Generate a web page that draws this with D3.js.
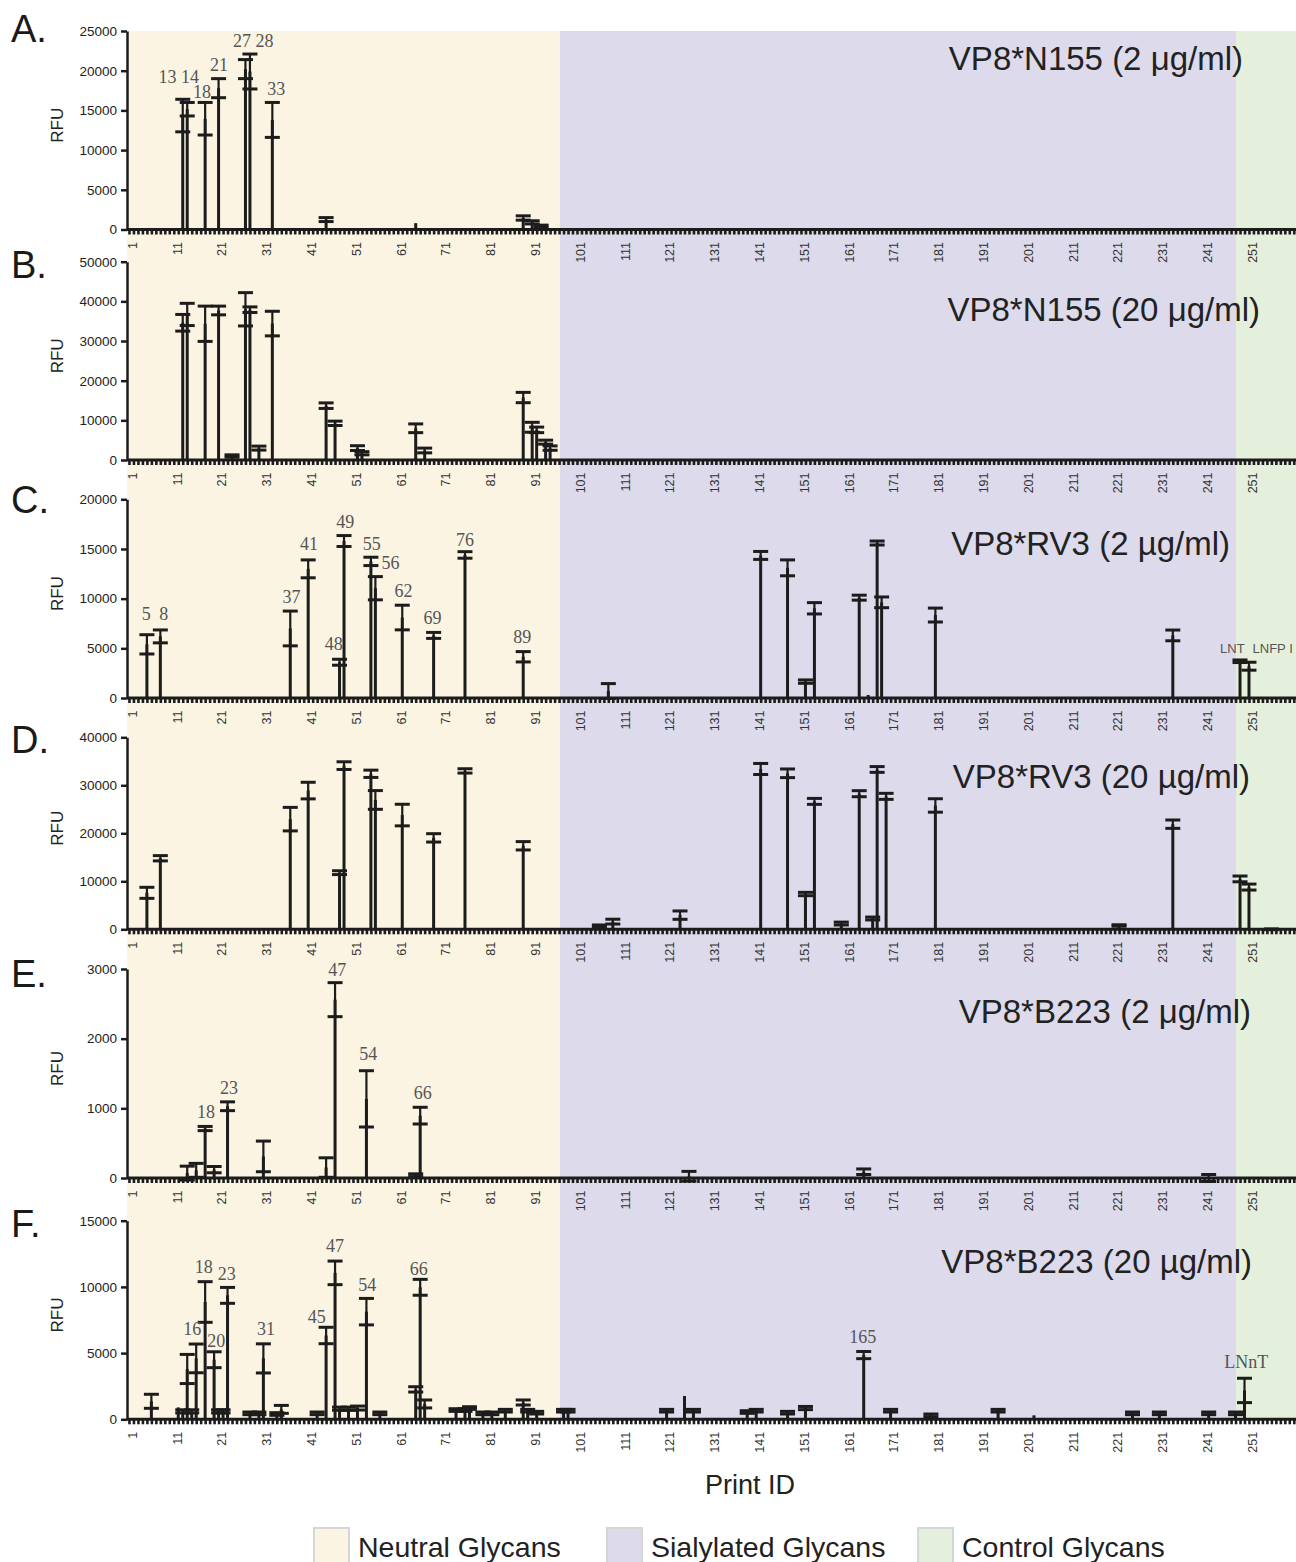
<!DOCTYPE html>
<html><head><meta charset="utf-8">
<script src="https://cdn.jsdelivr.net/npm/d3@7"></script>
<style>body{margin:0;background:#fff;} svg{display:block;}</style>
</head><body>
<svg id="chart" width="1296" height="1562"></svg>
<script>
// ---------------- DATA ----------------
const panelLetters = ["A.", "B.", "C.", "D.", "E.", "F."];
const panelTitles = ["VP8*N155 (2 μg/ml)", "VP8*N155 (20 μg/ml)", "VP8*RV3 (2 µg/ml)",
  "VP8*RV3 (20 µg/ml)", "VP8*B223  (2 μg/ml)", "VP8*B223 (20 µg/ml)"];
const yMaxValues = [25000, 50000, 20000, 40000, 3000, 15000];
const yTickSteps = [5000, 10000, 5000, 10000, 1000, 5000];
const printIdTickLabels = d3.range(1, 252, 10);
const printIdMax = 262;
const regionNames = ["Neutral Glycans", "Sialylated Glycans", "Control Glycans"];
const regionFrom = [0.56, 97.2, 248.1];
const regionTo = [97.2, 248.1, 262];

// [print ID, mean RFU, SD]
const seriesA = [[13,14350,2050],[14,15150,850],[18,13950,2050],[21,17800,1200],[27,20200,1200],[28,19900,2200],[33,13800,2200],
  [45,1250,250],[65,800,0],[89,1450,270],[91,900,200],[93,400,150]];
const seriesB = [[13,34600,2100],[14,36700,2800],[18,34350,4450],[21,37700,1100],[24,1000,300],[27,38000,4200],[28,37900,700],[30,3000,500],[33,34400,3100],
  [45,13700,700],[47,9250,550],[52,3000,600],[53,1700,400],[65,8000,1100],[67,2400,600],
  [89,15750,1300],[91,8250,1250],[92,7600,700],[94,4500,500],[95,3000,550]];
const seriesC = [[5,5400,970],[8,6200,650],[37,7000,1750],[41,13000,900],[48,3600,300],[49,15800,550],[55,13750,420],[56,11050,1170],[62,8100,1240],[69,6300,300],[76,14400,330],[89,4150,520],
  [108,700,750],[142,14350,400],[148,13100,800],[152,1650,170],[154,9030,570],[164,10100,250],[166,300,0],[168,15600,200],[169,9630,540],[181,8350,700],[234,6300,540],[249,3700,130],[251,3200,400]];
const seriesD = [[5,7600,1150],[8,14800,550],[37,22950,2450],[41,28900,1730],[48,11800,400],[49,34100,800],[55,32400,760],[56,26950,1950],[62,23800,2250],[69,19050,870],[76,33000,450],[89,17400,870],
  [106,700,200],[109,1600,500],[124,2950,870],[142,33400,1150],[148,32500,900],[152,7350,350],[154,26650,620],[160,1200,300],[164,28250,630],[167,2250,300],[168,33300,600],[170,27700,630],[181,25800,1400],[222,800,150],[234,21900,870],[249,10500,600],[251,8800,620],[256,0,80]];
const seriesE = [[14,70,100],[16,110,100],[18,710,30],[20,120,45],[23,1030,63],[31,310,220],[45,150,140],[47,2560,244],[54,1136,404],[65,40,20],[66,895,120],
  [126,25,70],[165,90,40],[242,0,50]];
const seriesF = [[6,1360,530],[12,900,0],[13,600,120],[14,3800,1100],[15,600,120],[16,4600,1085],[18,8860,1535],[20,4500,600],[21,600,120],[22,600,120],[23,9360,600],[28,450,100],[30,450,100],[31,4600,1100],[34,400,100],[35,750,300],[43,450,100],[45,6330,620],[47,11060,890],[48,800,120],[50,800,120],[52,850,150],[54,8130,1000],[57,450,100],[65,2260,200],[66,9970,600],[67,1160,300],[74,700,100],[76,700,100],[77,850,100],[80,450,100],[82,450,100],[85,650,100],[89,1270,190],[90,650,100],[92,500,100],[98,650,100],
  [99,650,100],[121,650,100],[125,1760,0],[127,650,100],[139,550,100],[141,650,100],[148,500,100],[152,850,120],[165,4850,270],[171,650,100],[180,300,100],[195,650,100],[203,300,0],[225,450,100],[231,450,100],[242,450,100],[248,450,100],[250,2180,920]];

// annotations: [text, print ID (centre), RFU (baseline)]
const notesA = [["13 14",12.1,18400],["18",17.3,16500],["21",21.1,19900],["27 28",28.75,23000],["33",33.9,16900]];
const notesB = [];
const notesC = [["5",4.84,7850],["8",8.77,7850],["37",37.3,9600],["41",41.2,14900],["48",46.7,4830],["49",49.3,17080],["55",55.2,14900],["56",59.4,12950],["62",62.3,10200],["69",68.75,7450],["76",76,15300],["89",88.8,5500]];
const namesC = [["LNT",247.3,4500,"middle"],["LNFP I",251.8,4500,"start"]];
const notesD = [];
const notesE = [["18",18.2,856],["23",23.3,1206],["47",47.5,2900],["54",54.4,1694],["66",66.6,1129]];
const notesF = [["16",15.1,6366],["18",17.7,11020],["20",20.5,5486],["23",22.8,10520],["31",31.6,6366],["45",42.9,7250],["47",47,12660],["54",54.2,9710],["66",65.7,10900],["165",164.8,5790],["LNnT",250.4,3850]];

const allSeries = [seriesA, seriesB, seriesC, seriesD, seriesE, seriesF];
const allNotes = [notesA, notesB, notesC, notesD, notesE, notesF];
const allNames = [[], [], namesC, [], [], []];

// ---------------- LAYOUT / STYLE ----------------
const regionColors = ["#fbf4e2", "#dcdaeb", "#e4f0dc"];
const ink = "#1c1c1c";
const layout = [
  {zero:229.5, top:31,    letterY:42,   titleX:1243, titleY:70},
  {zero:460,   top:261.7, letterY:278,  titleX:1260, titleY:321},
  {zero:698,   top:499.3, letterY:513,  titleX:1230, titleY:555},
  {zero:929.3, top:737.3, letterY:753,  titleX:1250, titleY:788},
  {zero:1178,  top:969,   letterY:987,  titleX:1251, titleY:1023},
  {zero:1419.3,top:1220.7,letterY:1237, titleX:1252, titleY:1273}
];
const axisX = 127;
const svg = d3.select("#chart");
const x = d3.scaleLinear().domain([0, printIdMax]).range([124.5, 124.5 + printIdMax * 4.48]);
const sans = "'Liberation Sans', Arial, Helvetica, sans-serif";
const serif = "'Liberation Serif', 'Times New Roman', serif";

// backgrounds
const bgTop = layout[0].top, bgBottom = layout[5].zero;
svg.append("g").selectAll("rect").data(regionNames).join("rect")
  .attr("x", (d, i) => i === 0 ? axisX : x(regionFrom[i]))
  .attr("width", (d, i) => x(regionTo[i]) - (i === 0 ? axisX : x(regionFrom[i])))
  .attr("y", bgTop).attr("height", bgBottom - bgTop)
  .attr("fill", (d, i) => regionColors[i]);

layout.forEach((L, p) => {
  const y = d3.scaleLinear().domain([0, yMaxValues[p]]).range([L.zero, L.top]);
  const g = svg.append("g");

  // title
  g.append("text").attr("x", L.titleX).attr("y", L.titleY).attr("text-anchor", "end")
    .attr("font-family", sans).attr("font-size", 33).attr("fill", "#222").text(panelTitles[p]);
  // letter
  g.append("text").attr("x", 11).attr("y", L.letterY)
    .attr("font-family", sans).attr("font-size", 38).attr("fill", "#1a1a1a").text(panelLetters[p]);
  // RFU
  g.append("text").attr("transform", `translate(63,${(L.zero + L.top) / 2 - 5}) rotate(-90)`)
    .attr("text-anchor", "middle").attr("font-family", sans).attr("font-size", 17).attr("fill", "#222").text("RFU");

  // y axis
  const ya = g.append("g").attr("transform", `translate(${axisX},0)`)
    .call(d3.axisLeft(y).tickValues(d3.range(0, yMaxValues[p] + 1, yTickSteps[p])).tickFormat(d3.format("d")).tickSize(6).tickSizeOuter(0).tickPadding(4));
  ya.select(".domain").attr("stroke", ink).attr("stroke-width", 2.5);
  ya.selectAll(".tick line").attr("stroke", ink).attr("stroke-width", 2.5);
  ya.selectAll(".tick text").attr("font-family", sans).attr("font-size", 13.5).attr("fill", "#222");

  // x axis
  const xa = g.append("g").attr("transform", `translate(0,${L.zero})`)
    .call(d3.axisBottom(x).tickValues(d3.range(1, printIdMax)).tickSize(5).tickSizeOuter(0)
      .tickFormat(d => printIdTickLabels.includes(d) ? String(d) : ""));
  xa.select(".domain").remove();
  xa.selectAll(".tick line").attr("stroke", ink).attr("stroke-width", 2.6);
  xa.selectAll(".tick text").attr("transform", "rotate(-90)").attr("x", -12.5).attr("y", 3)
    .attr("dy", "0.35em").attr("text-anchor", "end")
    .attr("font-family", sans).attr("font-size", 12.5).attr("fill", "#333");
  g.append("line").attr("x1", axisX).attr("x2", 1296).attr("y1", L.zero).attr("y2", L.zero)
    .attr("stroke", ink).attr("stroke-width", 3);

  // bars + error bars
  const data = allSeries[p];
  const marks = g.append("g");
  marks.selectAll("rect").data(data).join("rect")
    .attr("x", d => x(d[0]) - 1.5).attr("width", 3)
    .attr("y", d => Math.min(y(d[1]), y(0))).attr("height", d => Math.abs(y(0) - y(d[1])))
    .attr("fill", ink);
  marks.selectAll("line.err").data(data.filter(d => d[2] > 0)).join("line").attr("class", "err")
    .attr("x1", d => x(d[0])).attr("x2", d => x(d[0]))
    .attr("y1", d => y(d[1] - d[2])).attr("y2", d => y(d[1] + d[2]))
    .attr("stroke", ink).attr("stroke-width", 2.2);
  const caps = [];
  data.filter(d => d[2] > 0).forEach(d => { caps.push([d[0], d[1] + d[2]]); caps.push([d[0], d[1] - d[2]]); });
  marks.selectAll("line.cap").data(caps).join("line").attr("class", "cap")
    .attr("x1", d => x(d[0]) - 7.5).attr("x2", d => x(d[0]) + 7.5)
    .attr("y1", d => y(d[1])).attr("y2", d => y(d[1]))
    .attr("stroke", ink).attr("stroke-width", 3);

  // annotations
  g.append("g").selectAll("text").data(allNotes[p]).join("text")
    .attr("x", d => x(d[1])).attr("y", d => y(d[2])).attr("text-anchor", "middle")
    .attr("font-family", serif).attr("font-size", 18).attr("fill", "#555").text(d => d[0]);
  g.append("g").selectAll("text").data(allNames[p]).join("text")
    .attr("x", d => x(d[1])).attr("y", d => y(d[2])).attr("text-anchor", d => d[3])
    .attr("font-family", sans).attr("font-size", 13).attr("fill", "#555").text(d => d[0]);
});

// x title
svg.append("text").attr("x", 750).attr("y", 1494).attr("text-anchor", "middle")
  .attr("font-family", sans).attr("font-size", 27).attr("fill", "#222").text("Print ID");

// legend
const legendX = [314, 607, 918];
const lg = svg.append("g").selectAll("g").data(regionNames).join("g")
  .attr("transform", (d, i) => `translate(${legendX[i]},1528)`);
lg.append("rect").attr("width", 35).attr("height", 35).attr("fill", (d, i) => regionColors[i])
  .attr("stroke", "#d6d6d6").attr("stroke-width", 2);
lg.append("text").attr("x", 44).attr("y", 29).attr("font-family", sans).attr("font-size", 28.5)
  .attr("fill", "#222").text(d => d);
</script>
</body></html>
